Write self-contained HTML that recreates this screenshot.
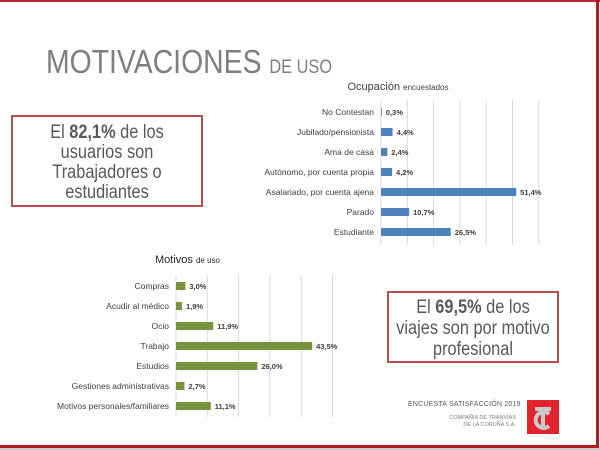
<!DOCTYPE html>
<html><head><meta charset="utf-8"><style>
body{margin:0;width:600px;height:450px;overflow:hidden;background:#fff;font-family:"Liberation Sans",sans-serif;position:relative}
.abs{position:absolute}
.box{position:absolute;border:2px solid #b5504e;color:#595959;box-sizing:border-box}
.inner{position:absolute;left:50%;white-space:nowrap;text-align:center;font-size:19px;transform:translateX(-50%) scaleX(0.86);}
</style></head><body>
<div class="abs" style="left:0;top:0;width:600px;height:2px;background:#c0262b"></div>
<div class="abs" style="left:596px;top:0;width:3px;height:448px;background:#b01a1e"></div>
<div class="abs" style="left:0;top:445px;width:599px;height:3px;background:#b01a1e"></div>
<div class="abs" style="left:0;top:448px;width:600px;height:2px;background:#ccc"></div>
<div class="abs" style="left:46px;top:43px;color:#7f7f7f;font-size:33px;white-space:nowrap;transform-origin:0 0;transform:scaleX(0.86)">MOTIVACIONES <span style="font-size:19px">DE USO</span></div>
<div class="box" style="left:11px;top:115px;width:192px;height:92px"><div class="inner" style="top:6px;line-height:20px">El <b>82,1%</b> de los<br>usuarios son<br>Trabajadores o<br>estudiantes</div></div>
<div class="box" style="left:387px;top:291px;width:172px;height:72px"><div class="inner" style="top:4px;line-height:21px">El <b>69,5%</b> de los<br>viajes son por motivo<br>profesional</div></div>
<svg class="abs" style="left:0;top:0" width="600" height="450" id="charts"></svg>
<div class="abs" style="left:408px;top:401px;font-size:7px;color:#595959;letter-spacing:0.2px">ENCUESTA SATISFACCIÓN 2019</div>
<div class="abs" style="left:400px;top:415px;width:116px;text-align:right;font-size:5.5px;line-height:7px;color:#7f7f7f">COMPAÑÍA DE TRANVÍAS<br>DE LA CORUÑA S.A.</div>
<div class="abs" style="left:527px;top:400px;width:32px;height:34px;background:#e3232b">
<svg width="32" height="34"><rect x="8" y="7" width="16" height="4" fill="#c9c9c9"/><rect x="14" y="7" width="4" height="22" fill="#c9c9c9"/><path d="M22 14 A8 8 0 1 0 22 26" stroke="#c9c9c9" stroke-width="4" fill="none"/></svg></div>
<script>
const occCats=["No Contestan","Jubilado/pensionista","Ama de casa","Autónomo, por cuenta propia","Asalariado, por cuenta ajena","Parado","Estudiante"];
const occVals=[0.3,4.4,2.4,4.2,51.4,10.7,26.5];
const occTicks=[0,10,20,30,40,50,60];
const motCats=["Compras","Acudir al médico","Ocio","Trabajo","Estudios","Gestiones administrativas","Motivos personales/familiares"];
const motVals=[3.0,1.9,11.9,43.5,26.0,2.7,11.1];
const motTicks=[0,10,20,30,40,50];
const svg=document.getElementById('charts');
const NS='http://www.w3.org/2000/svg';
function mk(t,a,txt){const e=document.createElementNS(NS,t);for(const k in a)e.setAttribute(k,a[k]);if(txt!=null)e.textContent=txt;svg.appendChild(e);return e;}
function chart(cats,vals,ticks,x0,pxPer,y0,step,yTop,yBot,color,prefix){
  const xs=v=>x0+v*pxPer;
  ticks.forEach(t=>{const g=mk('line',{x1:xs(t),x2:xs(t),y1:yTop,y2:yBot,stroke:'#d9d9d9','stroke-width':1});
    
    });
  cats.forEach((c,i)=>{const yc=y0+i*step;
    const l=mk('text',{x:x0-7,y:yc+3,'text-anchor':'end','font-size':8.5,fill:'#404040'},c);
    
    
    const b=mk('rect',{x:x0,y:yc-4,width:Math.max(xs(vals[i])-x0,0.5),height:8,fill:color});
    
    
    const v=mk('text',{x:xs(vals[i])+4,y:yc+3,'font-size':7.5,'font-weight':'bold',fill:'#404040'},vals[i].toFixed(1).replace('.',',')+'%');
    
    });
}
chart(occCats,occVals,occTicks,381,2.63,112,20,100,245,'#4f81bd','occupation');
chart(motCats,motVals,motTicks,176,3.13,286,20,275,417,'#77933c','motive');
let t=mk('text',{x:398,y:90,'text-anchor':'middle','font-size':11,fill:'#404040'});


t.innerHTML='Ocupación <tspan font-size="8">encuestados</tspan>';
let t2=mk('text',{x:155,y:263,'font-size':11,fill:'#262626'});


t2.innerHTML='Motivos <tspan font-size="8">de uso</tspan>';
</script>
</body></html>
